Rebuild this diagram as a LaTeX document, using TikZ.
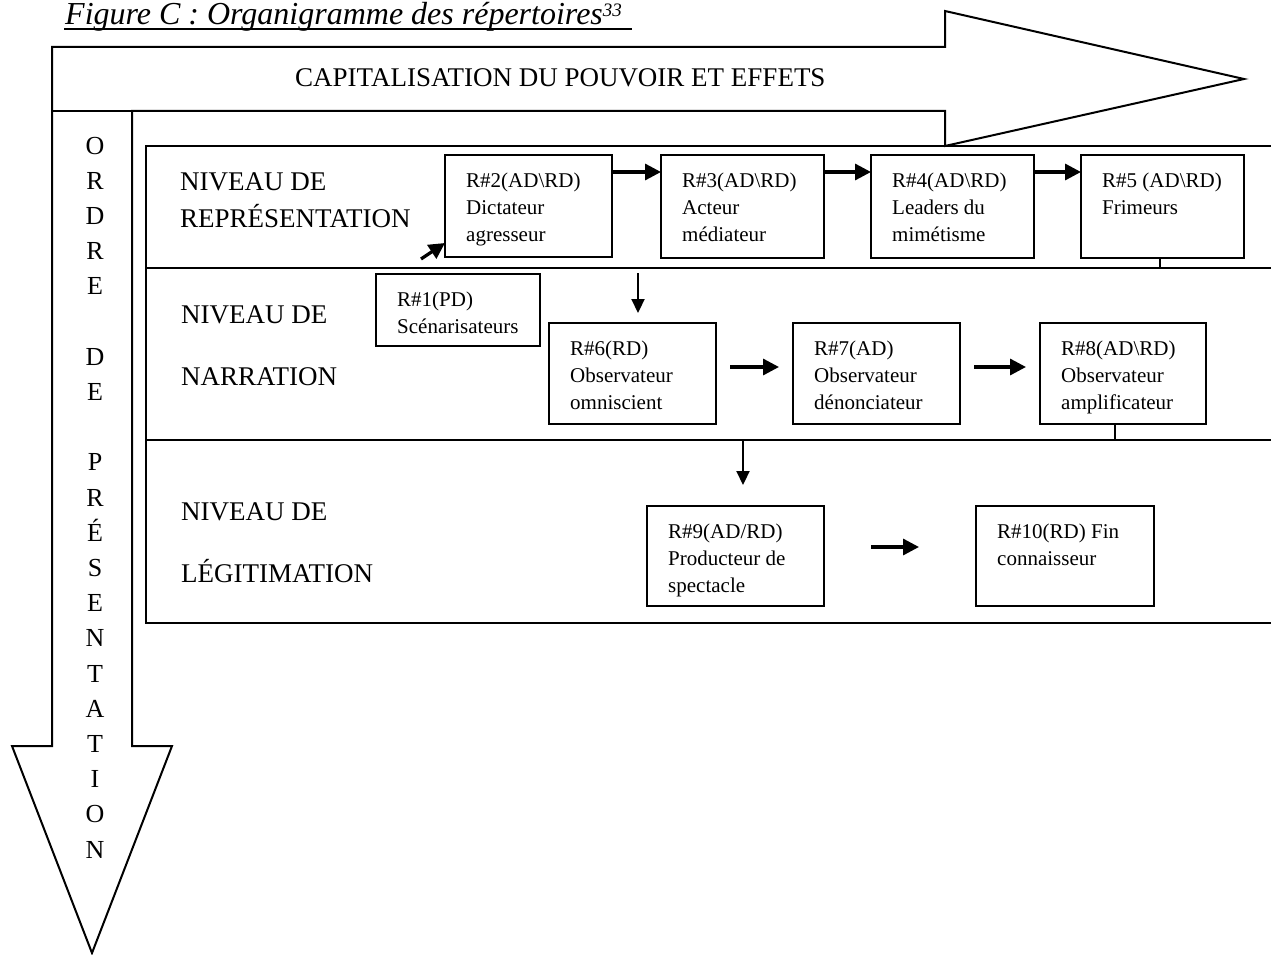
\documentclass[tikz,border=0pt]{standalone}
\usepackage{fontspec}
\setmainfont{Liberation Serif}
\usetikzlibrary{arrows.meta,calc}
\newcommand\rbox[6]{%
  \node[boxst,minimum width=#4pt,minimum height=#5pt] (#1) at (#2,#3) {};
  \node[btxt] (#1t) at ($(#1.north west)+(21,32)$) {\parbox[t]{170pt}{\raggedright #6}};
}
\begin{document}
\begin{tikzpicture}[x=1pt,y=-1pt,
  outl/.style={draw=black,line width=2pt,line join=miter},
  plain/.style={draw=black,line width=2pt},
  boxst/.style={draw=black,line width=2pt,inner sep=0pt,outer sep=0pt,anchor=north west},
  btxt/.style={inner sep=0pt,anchor=base west,font=\fontsize{21}{27}\selectfont},
  lab/.style={inner sep=0pt,anchor=base west,font=\fontsize{27}{30}\selectfont},
  vlet/.style={inner sep=0pt,anchor=base,font=\fontsize{26}{30}\selectfont},
  conn/.style={line width=3.3pt,-{Triangle[length=16pt,width=16pt]}},
  conntwo/.style={line width=2.2pt,-{Triangle[length=14pt,width=13pt]}}
]
\useasboundingbox (0,0) rectangle (1271,955);

% title
\node[inner sep=0pt,anchor=base west,font=\fontsize{32}{36}\selectfont\itshape] (title) at (65,25)
  {Figure C : Organigramme des répertoires\raisebox{8pt}{\fontsize{19}{20}\selectfont 33}};
\draw[line width=1.8pt] ($(title.base west)+(-1,4)$) -- ($(title.base east)+(10,4)$);

% big L-shaped arrows
\draw[outl] (52,47) -- (945,47) -- (945,11) -- (1244,79) -- (945,146) -- (945,111)
  -- (132,111) -- (132,746) -- (172,746) -- (92,953) -- (12,746) -- (52,746) -- cycle;
\draw[plain] (52,111) -- (132,111);
\node[lab] (cap) at (295,87) {CAPITALISATION DU POUVOIR ET EFFETS};
\foreach \l [count=\i from 0] in {O,R,D,R,E,{},D,E,{},P,R,É,S,E,N,T,A,T,I,O,N}
  \node[vlet] (v\i) at (95,{154+35.2*\i}) {\l};

% frame
\draw[plain] (1271,146) -- (146,146) -- (146,623) -- (1271,623);
\draw[plain] (146,268) -- (1271,268);
\draw[plain] (146,440) -- (1271,440);

% level labels
\node[lab] (l1a) at (180,190) {NIVEAU DE};
\node[lab] (l1b) at (180,227) {REPRÉSENTATION};
\node[lab] (l2a) at (181,323) {NIVEAU DE};
\node[lab] (l2b) at (181,385) {NARRATION};
\node[lab] (l3a) at (181,520) {NIVEAU DE};
\node[lab] (l3b) at (181,582) {LÉGITIMATION};

% boxes
\rbox{R2}{445}{155}{167}{102}{R\#2(AD\textbackslash RD)\\Dictateur\\agresseur}
\rbox{R3}{661}{155}{163}{103}{R\#3(AD\textbackslash RD)\\Acteur\\médiateur}
\rbox{R4}{871}{155}{163}{103}{R\#4(AD\textbackslash RD)\\Leaders du\\mimétisme}
\rbox{R5}{1081}{155}{163}{103}{R\#5 (AD\textbackslash RD)\\Frimeurs}
\rbox{R1}{376}{274}{164}{72}{R\#1(PD)\\Scénarisateurs}
\rbox{R6}{549}{323}{167}{101}{R\#6(RD)\\Observateur\\omniscient}
\rbox{R7}{793}{323}{167}{101}{R\#7(AD)\\Observateur\\dénonciateur}
\rbox{R8}{1040}{323}{166}{101}{R\#8(AD\textbackslash RD)\\Observateur\\amplificateur}
\rbox{R9}{647}{506}{177}{100}{R\#9(AD/RD)\\Producteur de\\spectacle}
\rbox{R10}{976}{506}{178}{100}{R\#10(RD) Fin\\connaisseur}

% connectors
\draw[conn] ($(R2.north east)+(0,17)$) -- ($(R3.north west)+(0,17)$);
\draw[conn] ($(R3.north east)+(0,17)$) -- ($(R4.north west)+(0,17)$);
\draw[conn] ($(R4.north east)+(0,17)$) -- ($(R5.north west)+(0,17)$);
\draw[conn] ($(R6.north east)+(14,44)$) -- ($(R7.north west)+(-14,44)$);
\draw[conn] ($(R7.north east)+(14,44)$) -- ($(R8.north west)+(-14,44)$);
\draw[conn] ($(R9.north east)+(47,41)$) -- ($(R10.north west)+(-57,41)$);
\coordinate (d1) at (421,259);
\draw[conn] (d1) -- ($(R2.south west)+(0,-14)$);
\coordinate (a1) at (638,273);
\draw[conntwo] (a1) -- ($(R6.north west)+(89,-10)$);
\coordinate (a2) at (743,441);
\draw[conntwo] (a2) -- ($(R9.north west)+(96,-21)$);
\draw[plain] ($(R5.south west)+(79,0)$) -- ++(0,10);
\draw[plain] ($(R8.south west)+(75,0)$) -- ++(0,16);
\end{tikzpicture}
\end{document}
